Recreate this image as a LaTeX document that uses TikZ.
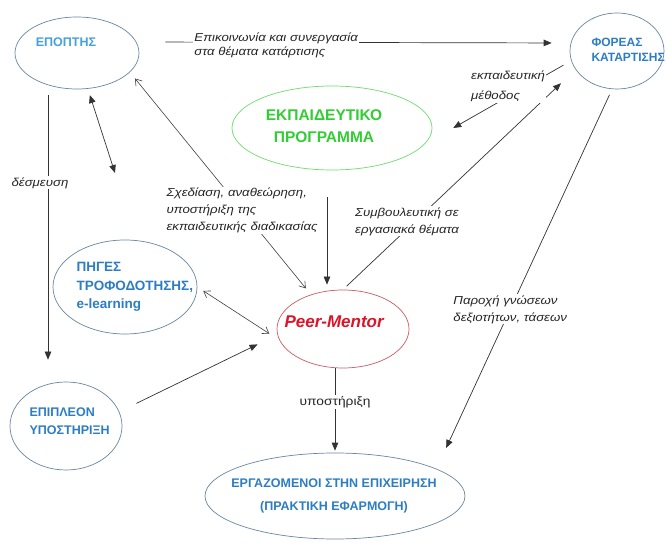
\documentclass[tikz,border=0pt]{standalone}
\usepackage{fontspec}
\setmainfont{Liberation Sans}
\newfontfamily\lblfont[FakeStretch=1.15]{Liberation Sans}
\usetikzlibrary{arrows.meta,shapes.geometric}
\definecolor{lightblue}{RGB}{70,160,220}
\definecolor{nodeblue}{RGB}{45,125,195}
\definecolor{edgeblue}{RGB}{105,135,160}
\definecolor{edgegreen}{RGB}{110,220,110}
\definecolor{txtgreen}{RGB}{50,205,50}
\definecolor{edgered}{RGB}{205,90,100}
\definecolor{peerred}{RGB}{220,20,40}

\begin{document}
\begin{tikzpicture}[x=1pt, y=-1pt, every node/.style={font=\fontsize{11}{15}\selectfont},
	bell/.style={ellipse, draw=edgeblue, line width=0.7pt, inner sep=0pt},
	btxt/.style={text=nodeblue, align=left, font=\fontsize{12.5}{18}\selectfont\bfseries},
	lbl/.style={fill=white, inner sep=1pt, align=left, text=black!85, font=\lblfont\fontsize{11.5}{17}\selectfont\itshape},
	arr/.style={draw=black!80, line width=0.7pt, -{Triangle[length=8pt, width=6.5pt]}},
	twoarr/.style={draw=black!80, line width=0.7pt, {Triangle[length=8pt, width=6.5pt]}-{Triangle[length=8pt, width=6.5pt]}},
	barb/.style={draw=black!75, line width=0.6pt, {Straight Barb[length=6pt, width=8pt]}-{Straight Barb[length=6pt, width=8pt]}}]
	\useasboundingbox[fill=white] (0,0) rectangle (667,545);
	\node[bell, minimum width=124, minimum height=72] (epoptis) at (77,53) {};
	\node[btxt, text=lightblue] (epoptis-t) at (66,42) {ΕΠΟΠΤΗΣ};
	\node[bell, minimum width=94, minimum height=76] (foreas) at (617,51) {};
	\node[btxt, anchor=west, font=\fontsize{12}{15}\selectfont\bfseries] (foreas-t) at (588,50) {ΦΟΡΕΑΣ\\ΚΑΤΑΡΤΙΣΗΣ};
	\node[ellipse, draw=edgegreen, line width=0.7pt, minimum width=200, minimum height=84] (ekp) at (332,128) {};
	\node[text=txtgreen, align=center, font=\fontsize{15.5}{22}\selectfont\bfseries] (ekp-t) at (324,126) {ΕΚΠΑΙΔΕΥΤΙΚΟ\\ΠΡΟΓΡΑΜΜΑ};
	\node[bell, minimum width=144, minimum height=94] (piges) at (125,287) {};
	\node[btxt, anchor=west, font=\fontsize{13.5}{18.5}\selectfont\bfseries] (piges-t) at (73,287) {ΠΗΓΕΣ\\ΤΡΟΦΟΔΟΤΗΣΗΣ,\\e-learning};
	\node[ellipse, draw=edgered, line width=0.7pt, minimum width=132, minimum height=78] (peer) at (343,329) {};
	\node[text=peerred, anchor=west, font=\fontsize{17}{20}\selectfont\bfseries\itshape] (peer-t) at (281,322) {Peer-Mentor};
	\node[bell, minimum width=112, minimum height=88] (epipleon) at (66,426) {};
	\node[btxt, anchor=west] (epipleon-t) at (26,421) {ΕΠΙΠΛΕΟΝ\\ΥΠΟΣΤΗΡΙΞΗ};
	\node[bell, minimum width=260, minimum height=86] (ergaz) at (335,496) {};
	\node[btxt, align=center, font=\fontsize{12.5}{23}\selectfont\bfseries] (ergaz-t) at (334,496) {ΕΡΓΑΖΟΜΕΝΟΙ ΣΤΗΝ ΕΠΙΧΕΙΡΗΣΗ\\(ΠΡΑΚΤΙΚΗ ΕΦΑΡΜΟΓΗ)};
	\coordinate (free) at (115,173);
	\draw[arr, shorten <=26pt, shorten >=18pt] ([yshift=11pt]epoptis.east) -- ([yshift=8pt]foreas.west) node[lbl, pos=0.318, yshift=-3pt, font=\lblfont\fontsize{11.5}{14}\selectfont\itshape] (komm) {Επικοινωνία και συνεργασία\\στα θέματα κατάρτισης};
	\draw[arr, shorten <=6pt, shorten >=22pt] ([xshift=-29pt]epoptis.south) -- ([xshift=-18pt]epipleon.north) node[lbl, pos=0.32, xshift=-8pt] (desm) {δέσμευση};
	\draw[twoarr, shorten <=6pt] ([xshift=11pt]epoptis.south) -- (free);
	\draw[barb, shorten <=8pt, shorten >=8pt] (epoptis.-20) -- (peer.133) node[lbl, pos=0.62] (sxed) {Σχεδίαση, αναθεώρηση,\\υποστήριξη της\\εκπαιδευτικής διαδικασίας};
	\draw[arr, shorten <=27pt, shorten >=5pt] ([xshift=-5pt]ekp.south) -- ([xshift=-5pt]ekp.south |- peer.north);
	\draw[arr, shorten <=5pt, shorten >=20pt] (peer.north) -- (foreas.204) node[lbl, pos=0.31, xshift=-8pt] (symv) {Συμβουλευτική σε\\εργασιακά θέματα};
	\draw[arr, shorten <=9pt, shorten >=33pt] (foreas.192.5) -- (ekp.-10) node[lbl, pos=0.43, yshift=10pt, font=\lblfont\fontsize{11.5}{20}\selectfont\itshape] (meth) {εκπαιδευτική\\μέθοδος};
	\draw[arr, shorten <=6pt, shorten >=23pt] ([xshift=-5pt]foreas.south) -- (ergaz.15) node[lbl, pos=0.58] (paro) {Παροχή γνώσεων\\δεξιοτήτων, τάσεων};
	\draw[arr, shorten >=2pt] (peer.south -| ergaz.north) -- (ergaz.north) node[lbl, pos=0.4, font=\lblfont\fontsize{12}{15}\selectfont] (ypost) {υποστήριξη};
	\draw[arr, shorten <=19pt, shorten >=22pt] (epipleon.15) -- (peer.185);
	\draw[barb, shorten <=7pt, shorten >=12pt] (piges.east) -- (peer.190);
\end{tikzpicture}
\end{document}
